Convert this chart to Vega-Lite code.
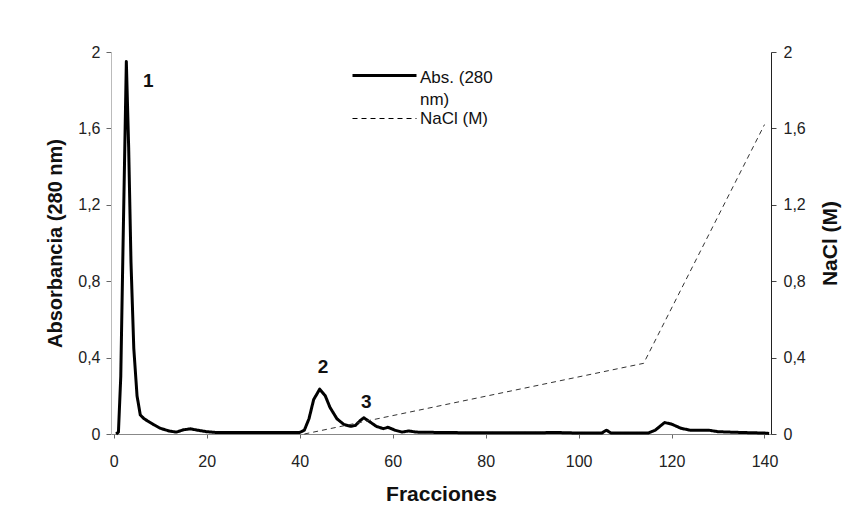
{
  "$schema": "https://vega.github.io/schema/vega-lite/v6.json",
  "autosize": {"type": "none"},
  "padding": {"left": 111, "top": 52, "right": 91, "bottom": 96},
  "width": 660,
  "height": 382,
  "background": "white",
  "config": {
    "view": {"stroke": null},
    "font": "Liberation Sans",
    "axis": {"labelFont": "Liberation Sans", "titleFont": "Liberation Sans", "labelColor": "#222", "titleColor": "#111", "grid": false}
  },
  "datasets": {
    "abs": [
      {"f": 0.5, "v": 0, "s": "Abs. (280 nm)"},
      {"f": 1, "v": 0.01, "s": "Abs. (280 nm)"},
      {"f": 1.5, "v": 0.3, "s": "Abs. (280 nm)"},
      {"f": 2, "v": 1.0, "s": "Abs. (280 nm)"},
      {"f": 2.7, "v": 1.95, "s": "Abs. (280 nm)"},
      {"f": 3.2, "v": 1.5, "s": "Abs. (280 nm)"},
      {"f": 3.7, "v": 0.9, "s": "Abs. (280 nm)"},
      {"f": 4.3, "v": 0.45, "s": "Abs. (280 nm)"},
      {"f": 5, "v": 0.2, "s": "Abs. (280 nm)"},
      {"f": 5.7, "v": 0.1, "s": "Abs. (280 nm)"},
      {"f": 6.5, "v": 0.08, "s": "Abs. (280 nm)"},
      {"f": 7.5, "v": 0.065, "s": "Abs. (280 nm)"},
      {"f": 8.5, "v": 0.05, "s": "Abs. (280 nm)"},
      {"f": 10, "v": 0.03, "s": "Abs. (280 nm)"},
      {"f": 12, "v": 0.015, "s": "Abs. (280 nm)"},
      {"f": 13.5, "v": 0.01, "s": "Abs. (280 nm)"},
      {"f": 15, "v": 0.022, "s": "Abs. (280 nm)"},
      {"f": 16.5, "v": 0.027, "s": "Abs. (280 nm)"},
      {"f": 18, "v": 0.02, "s": "Abs. (280 nm)"},
      {"f": 20, "v": 0.012, "s": "Abs. (280 nm)"},
      {"f": 22, "v": 0.008, "s": "Abs. (280 nm)"},
      {"f": 30, "v": 0.008, "s": "Abs. (280 nm)"},
      {"f": 40, "v": 0.008, "s": "Abs. (280 nm)"},
      {"f": 41, "v": 0.02, "s": "Abs. (280 nm)"},
      {"f": 42, "v": 0.08, "s": "Abs. (280 nm)"},
      {"f": 43, "v": 0.18, "s": "Abs. (280 nm)"},
      {"f": 44.3, "v": 0.235, "s": "Abs. (280 nm)"},
      {"f": 45.5, "v": 0.2, "s": "Abs. (280 nm)"},
      {"f": 46.5, "v": 0.14, "s": "Abs. (280 nm)"},
      {"f": 48, "v": 0.08, "s": "Abs. (280 nm)"},
      {"f": 49.5, "v": 0.05, "s": "Abs. (280 nm)"},
      {"f": 51, "v": 0.04, "s": "Abs. (280 nm)"},
      {"f": 52, "v": 0.045, "s": "Abs. (280 nm)"},
      {"f": 53, "v": 0.07, "s": "Abs. (280 nm)"},
      {"f": 53.8, "v": 0.085, "s": "Abs. (280 nm)"},
      {"f": 55, "v": 0.065, "s": "Abs. (280 nm)"},
      {"f": 56.5, "v": 0.04, "s": "Abs. (280 nm)"},
      {"f": 58, "v": 0.028, "s": "Abs. (280 nm)"},
      {"f": 59, "v": 0.035, "s": "Abs. (280 nm)"},
      {"f": 60.5, "v": 0.02, "s": "Abs. (280 nm)"},
      {"f": 62, "v": 0.01, "s": "Abs. (280 nm)"},
      {"f": 63.5, "v": 0.016, "s": "Abs. (280 nm)"},
      {"f": 65, "v": 0.01, "s": "Abs. (280 nm)"},
      {"f": 70, "v": 0.008, "s": "Abs. (280 nm)"},
      {"f": 80, "v": 0.006, "s": "Abs. (280 nm)"},
      {"f": 90, "v": 0.006, "s": "Abs. (280 nm)"},
      {"f": 95, "v": 0.008, "s": "Abs. (280 nm)"},
      {"f": 100, "v": 0.005, "s": "Abs. (280 nm)"},
      {"f": 105, "v": 0.005, "s": "Abs. (280 nm)"},
      {"f": 106, "v": 0.02, "s": "Abs. (280 nm)"},
      {"f": 107, "v": 0.005, "s": "Abs. (280 nm)"},
      {"f": 115, "v": 0.005, "s": "Abs. (280 nm)"},
      {"f": 116.5, "v": 0.02, "s": "Abs. (280 nm)"},
      {"f": 118.5, "v": 0.06, "s": "Abs. (280 nm)"},
      {"f": 120, "v": 0.052, "s": "Abs. (280 nm)"},
      {"f": 122, "v": 0.03, "s": "Abs. (280 nm)"},
      {"f": 124, "v": 0.02, "s": "Abs. (280 nm)"},
      {"f": 128, "v": 0.02, "s": "Abs. (280 nm)"},
      {"f": 130, "v": 0.012, "s": "Abs. (280 nm)"},
      {"f": 135, "v": 0.008, "s": "Abs. (280 nm)"},
      {"f": 140, "v": 0.005, "s": "Abs. (280 nm)"},
      {"f": 141, "v": 0.003, "s": "Abs. (280 nm)"}
    ],
    "nacl": [
      {"f": 41, "v": 0, "s": "NaCl (M)"},
      {"f": 114, "v": 0.37, "s": "NaCl (M)"},
      {"f": 140, "v": 1.62, "s": "NaCl (M)"}
    ],
    "peaks": [
      {"f": 7.4, "v": 1.85, "label": "1"},
      {"f": 45, "v": 0.35, "label": "2"},
      {"f": 54.3, "v": 0.168, "label": "3"}
    ]
  },
  "encoding": {
    "x": {
      "field": "f", "type": "quantitative",
      "scale": {"domain": [-0.6, 141.4], "nice": false, "zero": false},
      "axis": {
        "title": "Fracciones", "values": [0, 20, 40, 60, 80, 100, 120, 140],
        "labelFontSize": 16, "titleFontSize": 21, "titleFontWeight": "bold",
        "tickSize": 4, "labelPadding": 15, "titlePadding": 14,
        "domainColor": "#888", "tickColor": "#666"
      }
    }
  },
  "layer": [
    {
      "data": {"name": "abs"},
      "mark": {"type": "line", "color": "black", "strokeJoin": "round"},
      "encoding": {
        "y": {
          "field": "v", "type": "quantitative",
          "scale": {"domain": [0, 2], "nice": false},
          "axis": {
            "orient": "left", "title": "Absorbancia (280 nm)",
            "values": [0, 0.4, 0.8, 1.2, 1.6, 2], "format": "~g",
            "labelExpr": "replace(datum.label, '.', ',')",
            "labelFontSize": 16, "titleFontSize": 20, "titleFontWeight": "bold",
            "tickSize": 5, "labelPadding": 6, "titlePadding": 12,
            "domainColor": "#bbb", "tickColor": "#666"
          }
        },
        "strokeDash": {
          "field": "s", "type": "nominal",
          "scale": {"domain": ["Abs. (280 nm)", "NaCl (M)"], "range": [[1, 0], [5, 4]]},
          "legend": {
            "title": null, "orient": "none", "legendX": 264, "legendY": 14,
            "symbolType": "M-4,0H4", "symbolSize": 256, "symbolStrokeColor": "black", "symbolFillColor": "transparent",
            "labelFontSize": 17, "labelFont": "Liberation Sans", "labelColor": "#111",
            "labelExpr": "datum.label == 'Abs. (280 nm)' ? ['Abs. (280', 'nm)'] : datum.label",
            "rowPadding": 1, "labelOffset": 26,
            "encode": {
              "labels": {
                "update": {
                  "dy": {"signal": "datum.index == 0 ? 2 : 0"},
                  "lineHeight": {"value": 22}
                }
              }
            }
          }
        },
        "strokeWidth": {
          "field": "s", "type": "nominal",
          "scale": {"domain": ["Abs. (280 nm)", "NaCl (M)"], "range": [3, 1]},
          "legend": null
        }
      }
    },
    {
      "data": {"name": "nacl"},
      "mark": {"type": "line", "color": "#333"},
      "encoding": {
        "y": {
          "field": "v", "type": "quantitative",
          "scale": {"domain": [0, 2], "nice": false},
          "axis": {
            "orient": "right", "title": "NaCl (M)",
            "values": [0, 0.4, 0.8, 1.2, 1.6, 2], "format": "~g",
            "labelExpr": "replace(datum.label, '.', ',')",
            "labelFontSize": 16, "titleFontSize": 21, "titleFontWeight": "bold",
            "titleAngle": 270, "titleBaseline": "bottom",
            "tickSize": 5, "labelPadding": 7, "titlePadding": 35,
            "domainColor": "#222", "tickColor": "#444"
          }
        },
        "strokeDash": {"field": "s", "type": "nominal"},
        "strokeWidth": {"field": "s", "type": "nominal"}
      }
    },
    {
      "data": {"name": "peaks"},
      "mark": {"type": "text", "fontSize": 19, "fontWeight": "bold", "font": "Liberation Sans", "color": "#111"},
      "encoding": {
        "y": {"field": "v", "type": "quantitative", "axis": null, "scale": {"domain": [0, 2], "nice": false}},
        "text": {"field": "label"}
      }
    }
  ],
  "resolve": {"scale": {"y": "independent"}}
}
